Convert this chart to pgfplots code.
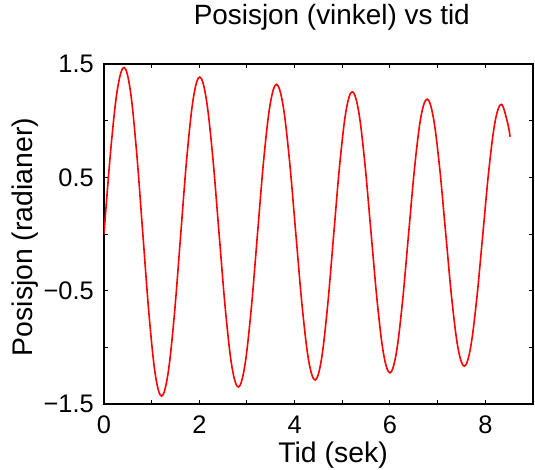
\documentclass[border=0pt]{standalone}
\usepackage{pgfplots}
\pgfplotsset{compat=1.18}
\usepackage{fontspec}
\setmainfont{Liberation Sans}

% damped pendulum angle
\pgfplotstableread{
t y
0.000 0.000
0.140 0.735
0.280 1.273
0.420 1.470
0.552 1.267
0.683 0.728
0.815 0.000
0.947 -0.722
1.078 -1.244
1.210 -1.430
1.343 -1.232
1.477 -0.708
1.610 0.000
1.743 0.700
1.877 1.206
2.010 1.385
2.145 1.194
2.280 0.687
2.415 0.000
2.550 -0.681
2.685 -1.174
2.820 -1.350
2.953 -1.165
3.087 -0.670
3.220 0.000
3.353 0.665
3.487 1.147
3.620 1.320
3.755 1.139
3.890 0.655
4.025 0.000
4.160 -0.649
4.295 -1.120
4.430 -1.288
4.560 -1.111
4.690 -0.639
4.820 0.000
4.950 0.633
5.080 1.092
5.210 1.255
5.342 1.083
5.473 0.623
5.605 0.000
5.737 -0.618
5.868 -1.065
6.000 -1.225
6.130 -1.056
6.260 -0.607
6.390 0.000
6.520 0.601
6.650 1.036
6.780 1.190
6.910 1.027
7.040 0.591
7.170 0.000
7.300 -0.587
7.430 -1.013
7.560 -1.166
7.689 -1.006
7.818 -0.579
7.948 0.000
8.077 0.576
8.206 0.994
8.335 1.144
8.464 0.987
8.520 0.858
}\vinkel

\begin{document}
\begin{tikzpicture}
\path (-104bp,-66bp) rectangle (431bp,404bp);
\begin{axis}[
  at={(0,0)}, anchor=south west,
  width=429bp, height=340bp, scale only axis,
  xmin=0, xmax=9, ymin=-1.5, ymax=1.5,
  xtick={0,2,4,6,8}, minor xtick={1,3,5,7},
  ytick={-1.5,-0.5,0.5,1.5}, minor ytick={-1,0,1},
  yticklabels={−1.5,−0.5,0.5,1.5},
  xticklabels={0,2,4,6,8},
  tick align=inside,
  major tick length=4bp, minor tick length=4bp,
  every tick/.style={black, line width=1bp},
  axis line style={line width=1.6bp},
  ticklabel style={font=\fontsize{25.5}{29}\selectfont, inner sep=0pt},
  xticklabel style={anchor=base, yshift=-29bp},
  yticklabel style={anchor=east, xshift=-10bp},
  xlabel={Tid (sek)}, ylabel={Posisjon (radianer)},
  label style={font=\fontsize{28.5}{32}\selectfont, inner sep=0pt},
  xlabel style={at={(axis description cs:0.534,-0.1735)}, anchor=base},
  ylabel style={at={(axis description cs:-0.184,0.491)}, anchor=center},
  title={Posisjon (vinkel) vs tid},
  title style={font=\fontsize{28}{32}\selectfont, inner sep=0pt,
    at={(axis description cs:0.531,1.100)}, anchor=base},
]
\addplot[red, line width=1.6bp, smooth, tension=0.6] table[x=t, y=y] {\vinkel};
\end{axis}
\end{tikzpicture}
\end{document}
